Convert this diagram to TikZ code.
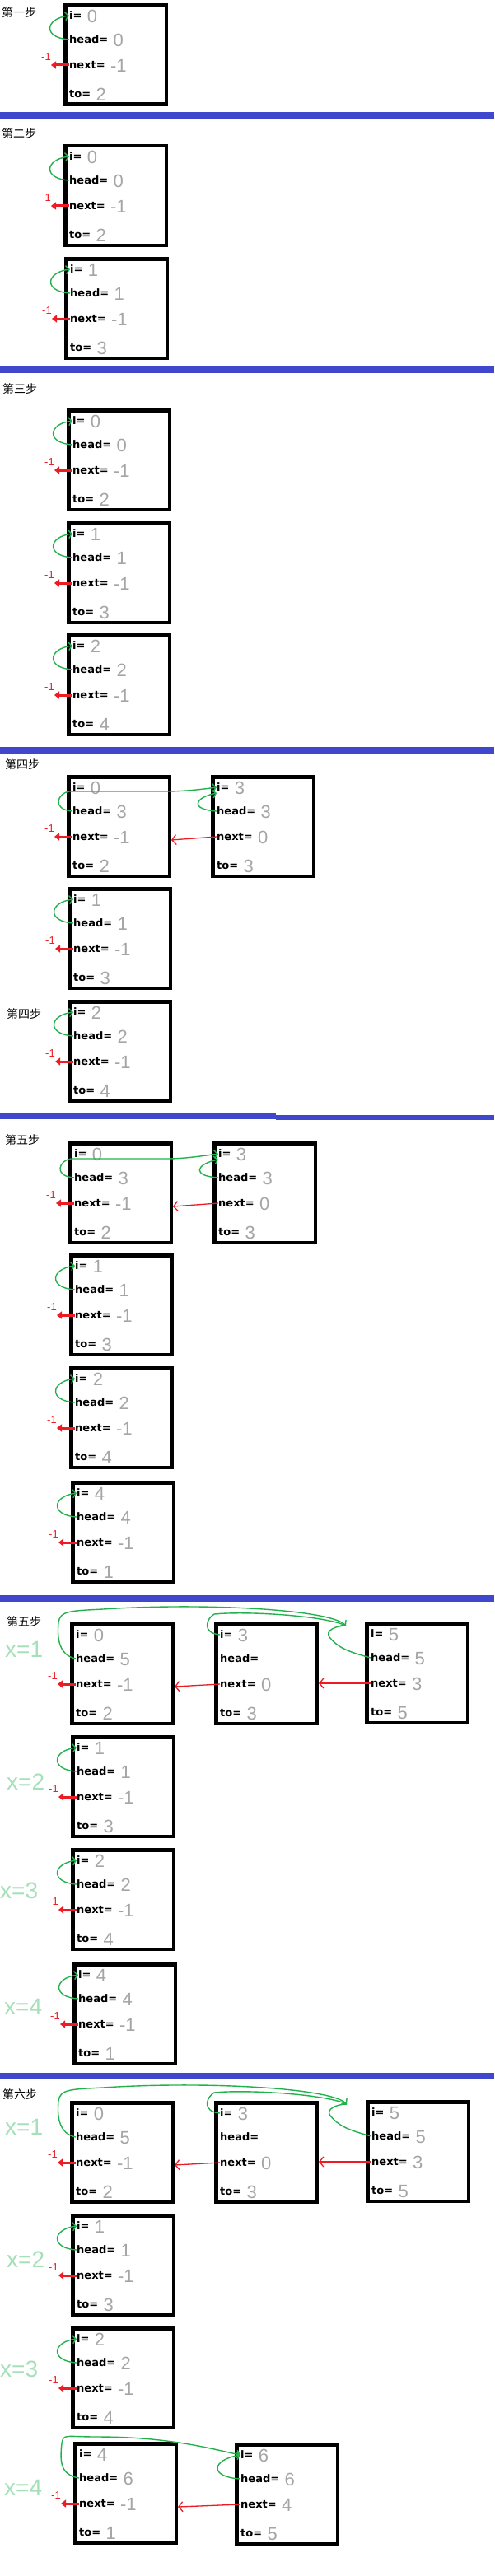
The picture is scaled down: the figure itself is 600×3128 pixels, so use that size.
\documentclass[tikz,border=0pt]{standalone}
\usepackage{fontspec}
\setmainfont{Liberation Sans}
\newfontfamily\cjk{Noto Sans CJK SC}
\newfontfamily\labfamily{DejaVu Sans}
\usetikzlibrary{arrows.meta,calc}

\definecolor{pred}{RGB}{237,28,36}
\definecolor{pgreen}{RGB}{34,177,76}
\definecolor{bandblue}{RGB}{63,72,204}
\definecolor{valgray}{RGB}{165,165,165}
\definecolor{xgreen}{RGB}{165,224,185}

\newcommand{\labfont}{\labfamily\bfseries\fontsize{13}{15}\selectfont}
\newcommand{\valfont}{\fontsize{22}{24}\selectfont}
\newcommand{\minusfont}{\fontsize{13}{15}\selectfont}
\newcommand{\stepfont}{\cjk\fontsize{14}{16}\selectfont}
\newcommand{\xfont}{\fontsize{28}{30}\selectfont}

\tikzset{
  ebox/.style={draw, line width=4.5pt, minimum width=122.5pt, minimum height=120.5pt, inner sep=0pt},
  elab/.style={anchor=west, inner sep=0pt, font=\labfont},
  evalue/.style={anchor=west, inner sep=0pt, text=valgray, font=\valfont},
  garrow/.style={draw=pgreen, line width=1.4pt, -{Straight Barb[length=4pt,width=10pt]}},
  gline/.style={draw=pgreen, line width=1.4pt},
  narrow/.style={draw=pred, line width=3pt, -{Triangle[length=6pt,width=9pt]}},
  larrow/.style={draw=pred, line width=1.3pt, -{Straight Barb[length=5pt,width=12pt]}},
  mlab/.style={text=pred, font=\minusfont, inner sep=0pt},
  steplab/.style={anchor=west, font=\stepfont, inner sep=0pt},
  xlab/.style={anchor=west, text=xgreen, font=\xfont, inner sep=0pt},
  bandfill/.style={fill=bandblue, draw=none}
}

% one edge record: name, left, top, i, head, next, to
\newcommand{\edgebox}[7]{%
  \node[ebox] (#1) at (#2+63.5,#3+62.5) {};
  \node[elab] (#1i) at ($(#1.north west)+(7,15)$) {i=};
  \node[elab] (#1h) at ($(#1.north west)+(7,44)$) {head=};
  \node[elab] (#1n) at ($(#1.north west)+(7,75)$) {next=};
  \node[elab] (#1t) at ($(#1.north west)+(7,110)$) {to=};
  \node[evalue] (#1iv) at ($(#1i.east)+(6,1)$) {#4};
  \node[evalue] (#1hv) at ($(#1h.east)+(6,1)$) {#5};
  \node[evalue] (#1nv) at ($(#1n.east)+(6,1)$) {#6};
  \node[evalue] (#1tv) at ($(#1t.east)+(6,1)$) {#7};
}
\newcommand{\selfloop}[1]{%
  \draw[garrow] (#1h.west) .. controls +(-32,-2) and +(-30,4) .. (#1i.west);
}
\newcommand{\nullnext}[1]{%
  \coordinate (#1m) at ($(#1n.west)+(-22,0)$);
  \draw[narrow] (#1n.west) -- (#1m);
  \node[mlab] (#1ml) at ($(#1m)+(-6,-10)$) {-1};
}

\begin{document}
\begin{tikzpicture}[x=1pt,y=-1pt]
\fill[white] (0,0) rectangle (600,3128);
\useasboundingbox (0,0) rectangle (600,3128);

% separators
\fill[bandfill] (0,136) rectangle (600,144);
\fill[bandfill] (0,445) rectangle (600,453);
\fill[bandfill] (0,907) rectangle (600,915);
\fill[bandfill] (0,1352) rectangle (335,1359);
\fill[bandfill] (335,1354) rectangle (600,1360);
\fill[bandfill] (0,1937) rectangle (600,1945);
\fill[bandfill] (0,2517) rectangle (600,2525);

% step 1
\node[steplab] (s1) at (2,15) {第一步};
\edgebox{a1}{77}{4}{0}{0}{-1}{2}
\selfloop{a1} \nullnext{a1}

% step 2
\node[steplab] (s2) at (2,162) {第二步};
\edgebox{a2}{77}{175}{0}{0}{-1}{2}
\edgebox{b2}{78}{312}{1}{1}{-1}{3}
\selfloop{a2} \nullnext{a2}
\selfloop{b2} \nullnext{b2}

% step 3
\node[steplab] (s3) at (3,472) {第三步};
\edgebox{a3}{81}{496}{0}{0}{-1}{2}
\edgebox{b3}{81}{633}{1}{1}{-1}{3}
\edgebox{c3}{81}{769}{2}{2}{-1}{4}
\selfloop{a3} \nullnext{a3}
\selfloop{b3} \nullnext{b3}
\selfloop{c3} \nullnext{c3}

% step 4
\node[steplab] (s4) at (6,928) {第四步};
\node[steplab] (s4b) at (8,1231) {第四步};
\edgebox{a4}{81}{941}{0}{3}{-1}{2}
\edgebox{d4}{256}{941}{3}{3}{0}{3}
\edgebox{b4}{82}{1077}{1}{1}{-1}{3}
\edgebox{c4}{82}{1214}{2}{2}{-1}{4}
\draw[garrow] (a4h.west) .. controls +(-26,-2) and +(-14,2) .. ($(a4h.west)+(-4,-24)$)
  -- ($(a4h.west)+(112,-24)$) .. controls +(22,0) and +(-22,3) .. (d4i.west);
\draw[garrow] (d4h.west) .. controls +(-32,-2) and +(-28,6) .. ($(d4i.west)+(0,7)$);
\draw[larrow] (d4n.west) -- ($(a4.east |- d4n.west)+(0,4)$);
\nullnext{a4}
\selfloop{b4} \nullnext{b4}
\selfloop{c4} \nullnext{c4}

% step 5
\node[steplab] (s5) at (6,1384) {第五步};
\edgebox{a5}{83}{1386}{0}{3}{-1}{2}
\edgebox{d5}{258}{1386}{3}{3}{0}{3}
\edgebox{b5}{84}{1522}{1}{1}{-1}{3}
\edgebox{c5}{84}{1659}{2}{2}{-1}{4}
\edgebox{e5}{86}{1798}{4}{4}{-1}{1}
\draw[garrow] (a5h.west) .. controls +(-26,-2) and +(-14,2) .. ($(a5h.west)+(-4,-23)$)
  -- ($(a5h.west)+(112,-23)$) .. controls +(22,0) and +(-22,3) .. (d5i.west);
\draw[garrow] (d5h.west) .. controls +(-32,-2) and +(-28,6) .. ($(d5i.west)+(0,7)$);
\draw[larrow] (d5n.west) -- ($(a5.east |- d5n.west)+(0,4)$);
\nullnext{a5}
\selfloop{b5} \nullnext{b5}
\selfloop{c5} \nullnext{c5}
\selfloop{e5} \nullnext{e5}

% step 5 again, x = 1..4
\node[steplab] (s6) at (8,1969) {第五步};
\edgebox{a6}{85}{1970}{0}{5}{-1}{2}
\edgebox{d6}{260}{1970}{3}{}{0}{3}
\edgebox{f6}{443}{1969}{5}{5}{3}{5}
\edgebox{b6}{86}{2107}{1}{1}{-1}{3}
\edgebox{c6}{86}{2244}{2}{2}{-1}{4}
\edgebox{e6}{88}{2383}{4}{4}{-1}{1}
\node[xlab] (x61) at (6,2003) {x=1};
\node[xlab] (x62) at (8,2164) {x=2};
\node[xlab] (x63) at (0,2296) {x=3};
\node[xlab] (x64) at (5,2437) {x=4};
\coordinate (f6tip) at ($(f6i.west)+(-30,-10)$);
\draw[garrow] (a6h.west) .. controls +(-20,-4) and +(-2,20) .. ($(a6.north west)+(-14,0)$)
  .. controls +(2,-14) and +(-40,2) .. ($(a6.north west)+(40,-16)$)
  .. controls +(120,-8) and +(-20,-20) .. (f6tip);
\draw[gline] (d6i.west) .. controls +(-22,-2) and +(-10,6) .. ($(d6.north west)+(0,-10)$)
  .. controls +(40,-4) and +(-25,-12) .. (f6tip);
\draw[gline] (f6h.west) .. controls +(-30,-8) and +(10,12) .. ($(f6tip)+(-20,14)$)
  .. controls +(-6,-8) and +(-12,0) .. (f6tip);
\draw[larrow] (d6n.west) -- ($(a6.east |- d6n.west)+(0,3)$);
\draw[larrow] (f6n.west) -- (d6.east |- f6n.west);
\nullnext{a6}
\selfloop{b6} \nullnext{b6}
\selfloop{c6} \nullnext{c6}
\selfloop{e6} \nullnext{e6}

% step 6
\node[steplab] (s7) at (3,2543) {第六步};
\edgebox{a7}{85}{2551}{0}{5}{-1}{2}
\edgebox{d7}{260}{2551}{3}{}{0}{3}
\edgebox{f7}{444}{2550}{5}{5}{3}{5}
\edgebox{b7}{86}{2688}{1}{1}{-1}{3}
\edgebox{c7}{86}{2825}{2}{2}{-1}{4}
\edgebox{e7}{89}{2965}{4}{6}{-1}{1}
\edgebox{g7}{285}{2966}{6}{6}{4}{5}
\node[xlab] (x71) at (6,2583) {x=1};
\node[xlab] (x72) at (8,2744) {x=2};
\node[xlab] (x73) at (0,2877) {x=3};
\node[xlab] (x74) at (5,3021) {x=4};
\coordinate (f7tip) at ($(f7i.west)+(-30,-10)$);
\draw[garrow] (a7h.west) .. controls +(-20,-4) and +(-2,20) .. ($(a7.north west)+(-14,0)$)
  .. controls +(2,-14) and +(-40,2) .. ($(a7.north west)+(40,-16)$)
  .. controls +(120,-8) and +(-20,-20) .. (f7tip);
\draw[gline] (d7i.west) .. controls +(-22,-2) and +(-10,6) .. ($(d7.north west)+(0,-10)$)
  .. controls +(40,-4) and +(-25,-12) .. (f7tip);
\draw[gline] (f7h.west) .. controls +(-30,-8) and +(10,12) .. ($(f7tip)+(-20,14)$)
  .. controls +(-6,-8) and +(-12,0) .. (f7tip);
\draw[larrow] (d7n.west) -- ($(a7.east |- d7n.west)+(0,3)$);
\draw[larrow] (f7n.west) -- (d7.east |- f7n.west);
\draw[garrow] (e7h.west) .. controls +(-24,-4) and +(-2,20) .. ($(e7.north west)+(-14,2)$)
  .. controls +(2,-12) and +(-40,0) .. ($(e7.north west)+(30,-6)$)
  .. controls +(90,0) and +(-30,-6) .. (g7i.west);
\draw[garrow] (g7h.west) .. controls +(-38,-2) and +(-36,6) .. (g7i.west);
\draw[larrow] (g7n.west) -- ($(e7.east |- g7n.west)+(0,3)$);
\nullnext{a7}
\selfloop{b7} \nullnext{b7}
\selfloop{c7} \nullnext{c7}
\nullnext{e7}
\end{tikzpicture}
\end{document}
